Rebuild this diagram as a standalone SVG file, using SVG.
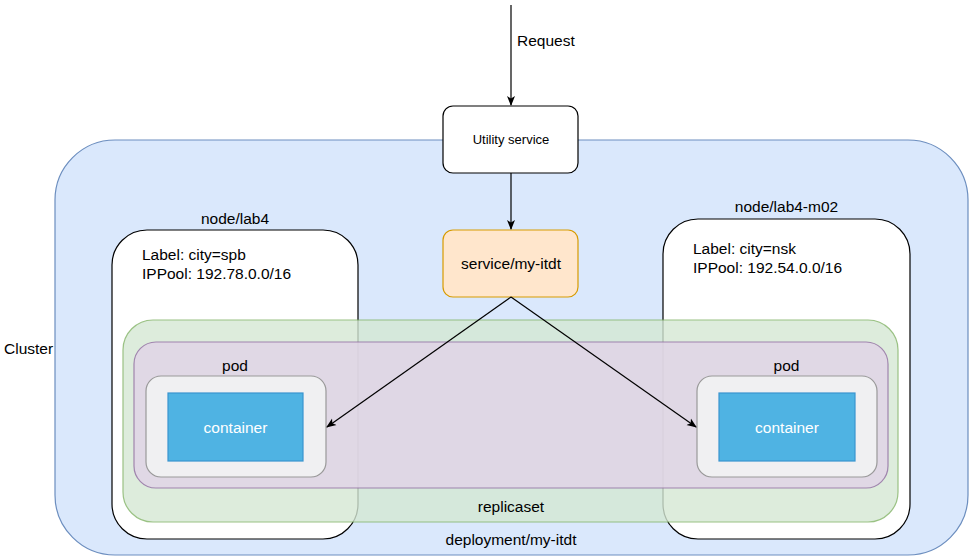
<svg xmlns="http://www.w3.org/2000/svg" width="971" height="559" viewBox="0 0 971 559">
<style>
text{font-family:"Liberation Sans",Arial,sans-serif;font-size:15.5px;fill:#000}
.c{text-anchor:middle}
.node{fill:#fff;stroke:#000;stroke-width:1.2}
.podin{fill:#f0f0f2;stroke:#999;stroke-width:1.2}
.cont{fill:#4fb3e3;stroke:#3a94cf;stroke-width:1.2}
.wt{fill:#fff}
.edge{stroke:#000;stroke-width:1.2;fill:none;marker-end:url(#arr)}
</style>
<defs>
<marker id="arr" viewBox="0 0 10 10" refX="9" refY="5" markerWidth="10" markerHeight="10" markerUnits="userSpaceOnUse" orient="auto">
<path d="M0,1 L10,5 L0,9 L2.5,5 Z" fill="#000"/>
</marker>
</defs>
<g id="cluster">
<rect x="55" y="140" width="913" height="415" rx="60" fill="#dae8fc" stroke="#6c8ebf" stroke-width="1.2"/>
<text x="4" y="354">Cluster</text>
<text class="c" x="511" y="545">deployment/my-itdt</text>
</g>
<g id="node-lab4">
<rect class="node" x="112" y="230" width="246" height="309" rx="35"/>
<text class="c" x="235" y="224">node/lab4</text>
<text x="142" y="260">Label: city=spb</text>
<text x="142" y="278.5">IPPool: 192.78.0.0/16</text>
</g>
<g id="node-lab4-m02">
<rect class="node" x="663" y="219" width="247" height="320" rx="35"/>
<text class="c" x="786.5" y="212">node/lab4-m02</text>
<text x="693" y="254">Label: city=nsk</text>
<text x="693" y="272.5">IPPool: 192.54.0.0/16</text>
</g>
<g id="replicaset">
<rect x="123" y="320" width="775" height="202" rx="30" fill="#d5e8d4" stroke="#82b366" stroke-width="1.2" opacity="0.8"/>
<text class="c" x="511" y="512">replicaset</text>
</g>
<g id="pods">
<rect x="134" y="342" width="754" height="146" rx="22" fill="#e1d5e7" stroke="#9673a6" stroke-width="1.2" opacity="0.85"/>
</g>
<g id="pod-left">
<text class="c" x="235" y="371">pod</text>
<rect class="podin" x="146" y="376" width="180" height="101" rx="15"/>
</g>
<g id="container-left">
<rect class="cont" x="168" y="393" width="135" height="68"/>
<text class="c wt" x="235.5" y="433">container</text>
</g>
<g id="pod-right">
<text class="c" x="786.5" y="371">pod</text>
<rect class="podin" x="697" y="376" width="180" height="101" rx="15"/>
</g>
<g id="container-right">
<rect class="cont" x="719" y="393" width="136" height="68"/>
<text class="c wt" x="787" y="433">container</text>
</g>
<g id="utility-service">
<rect x="443" y="106" width="135" height="67" rx="10" fill="#fff" stroke="#000" stroke-width="1.2"/>
<text class="c" x="511" y="144" style="font-size:13px">Utility service</text>
</g>
<g id="service-my-itdt">
<rect x="443" y="230" width="135" height="67" rx="10" fill="#ffe6cc" stroke="#d79b00" stroke-width="1.2"/>
<text class="c" x="511" y="269">service/my-itdt</text>
</g>
<g id="connectors">
<line class="edge" x1="511" y1="5" x2="511" y2="105"/>
<text x="517" y="46">Request</text>
<line class="edge" x1="511" y1="173" x2="511" y2="229"/>
<line class="edge" x1="511" y1="297" x2="327" y2="427"/>
<line class="edge" x1="511" y1="297" x2="696" y2="427"/>
</g>
</svg>
